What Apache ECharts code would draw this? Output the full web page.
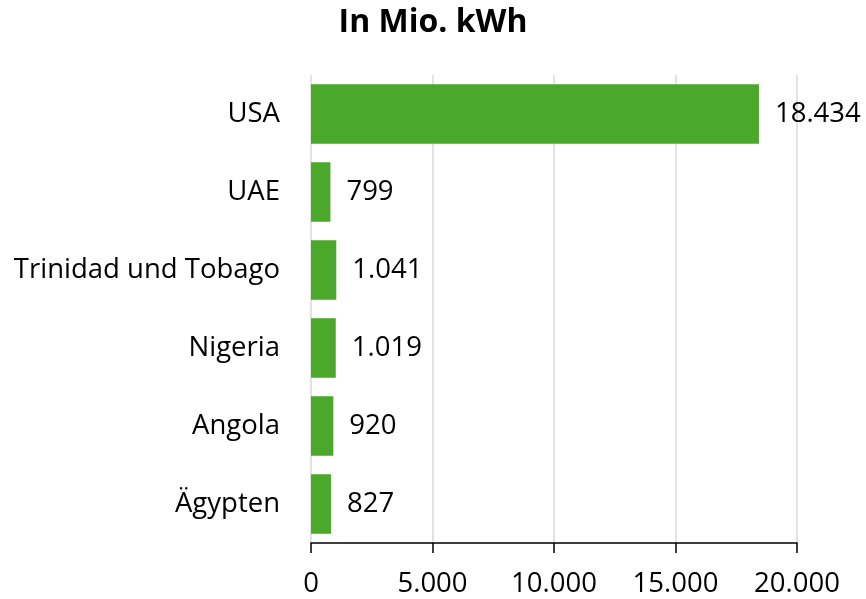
<!DOCTYPE html>
<html>
<head>
<meta charset="utf-8">
<script src="https://cdn.jsdelivr.net/npm/echarts@6/dist/echarts.min.js"></script>
<style>
  html, body { margin: 0; padding: 0; background: #fff; }
  #chart { width: 866px; height: 599px; }
</style>
</head>
<body>
<div id="chart"></div>
<script>
// Länder (von unten nach oben wie im Original)
const categories = ['Ägypten', 'Angola', 'Nigeria', 'Trinidad und Tobago', 'UAE', 'USA'];
const values = [827, 920, 1019, 1041, 799, 18434];
const xTicks = [0, 5000, 10000, 15000, 20000];

const fmt = (v) => String(v).replace(/\B(?=(\d{3})+(?!\d))/g, '.');
const font = '"Open Sans", Lato, sans-serif';

const chart = echarts.init(document.getElementById('chart'));
chart.setOption({
  animation: false,
  title: {
    text: 'In Mio. kWh',
    left: 'center',
    top: 2,
    textStyle: { fontFamily: font, fontSize: 32, fontWeight: 'bold', color: '#000' }
  },
  grid: { left: 311, right: 69, top: 75, bottom: 56 },
  xAxis: {
    type: 'value',
    min: xTicks[0],
    max: xTicks[xTicks.length - 1],
    interval: 5000,
    axisLine: { show: true, lineStyle: { color: '#000', width: 1.5 } },
    axisTick: { show: true, length: 10, lineStyle: { color: '#000', width: 1.5 } },
    axisLabel: {
      margin: 27,
      fontFamily: font,
      fontSize: 27.5,
      color: '#000',
      formatter: (v) => fmt(v)
    },
    splitLine: { show: true, lineStyle: { color: '#d9d9d9', width: 1.5 } }
  },
  yAxis: {
    type: 'category',
    data: categories,
    axisLine: { show: false },
    axisTick: { show: false },
    axisLabel: { margin: 31, fontFamily: font, fontSize: 27.5, color: '#000' }
  },
  series: [{
    type: 'bar',
    data: values,
    barCategoryGap: '24%',
    itemStyle: { color: '#4aa82b' },
    label: {
      show: true,
      position: 'right',
      distance: 16,
      fontFamily: font,
      fontSize: 27.5,
      color: '#000',
      formatter: (p) => fmt(p.value)
    }
  }]
});
</script>
</body>
</html>
